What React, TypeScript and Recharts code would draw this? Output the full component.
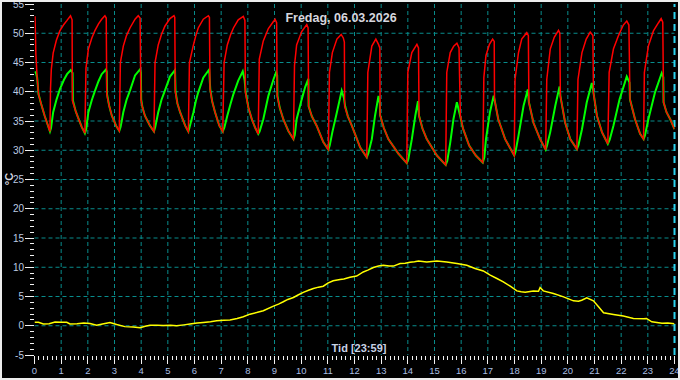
import React from 'react';
import { LineChart, Line, XAxis, YAxis, CartesianGrid, ReferenceLine } from 'recharts';

// [hour, °C] supply temperature (red)
const supplyTemp: [number, number][] = [
  [0.02, 52.9], [0.05, 46.5], [0.10, 42.4], [0.15, 39.6], [0.25, 37.9], [0.38, 35.9], [0.58, 33.2],
  [0.60, 40.5], [0.63, 43.8], [0.70, 46.6], [0.82, 48.8], [0.95, 50.4], [1.10, 51.5], [1.22, 52.2], [1.35, 53.0], [1.41, 52.3], [1.42, 38.5],
  [1.55, 36.6], [1.65, 35.4], [1.77, 34.0], [1.89, 32.9],
  [1.93, 44.0], [2.02, 47.3], [2.15, 49.2], [2.27, 50.5], [2.40, 51.6], [2.52, 52.4], [2.64, 53.0], [2.69, 52.6], [2.71, 39.6],
  [2.80, 37.6], [2.90, 35.9], [3.06, 34.2], [3.18, 33.3],
  [3.22, 45.0], [3.33, 47.8], [3.45, 49.6], [3.58, 50.9], [3.77, 52.4], [3.89, 53.0], [3.96, 52.6], [3.99, 38.7],
  [4.05, 37.3], [4.14, 35.9], [4.33, 34.2], [4.48, 33.2],
  [4.52, 45.0], [4.64, 48.0], [4.76, 49.8], [4.89, 51.2], [5.08, 52.5], [5.23, 53.0], [5.26, 52.7], [5.28, 40.0],
  [5.36, 38.0], [5.46, 36.5], [5.65, 34.2], [5.77, 33.2],
  [5.81, 45.0], [5.96, 48.0], [6.05, 49.6], [6.14, 50.9], [6.33, 52.4], [6.52, 53.0], [6.56, 52.7], [6.58, 40.5],
  [6.66, 38.4], [6.77, 36.5], [6.93, 34.2], [7.06, 33.2],
  [7.11, 45.0], [7.23, 48.0], [7.35, 49.7], [7.46, 50.9], [7.64, 52.3], [7.83, 52.9], [7.89, 52.2], [7.91, 39.9],
  [8.02, 37.3], [8.15, 35.3], [8.27, 33.9], [8.39, 32.8],
  [8.43, 45.6], [8.58, 48.7], [8.77, 50.8], [8.96, 52.0], [9.02, 52.4], [9.08, 51.8], [9.10, 39.3],
  [9.20, 37.2], [9.33, 35.3], [9.52, 33.3], [9.71, 31.9],
  [9.75, 44.5], [9.83, 48.0], [10.02, 50.3], [10.21, 51.5], [10.26, 50.9], [10.28, 37.5],
  [10.40, 35.8], [10.58, 34.2], [10.83, 31.4], [11.02, 30.1],
  [11.06, 43.3], [11.17, 46.7], [11.34, 49.0], [11.50, 49.8], [11.58, 49.2], [11.62, 48.5], [11.63, 37.5],
  [11.75, 35.8], [11.90, 34.2], [12.21, 30.5], [12.46, 28.8],
  [12.50, 43.3], [12.65, 47.8], [12.80, 49.0], [12.90, 48.1], [12.95, 47.5], [12.96, 36.0],
  [13.10, 33.8], [13.27, 31.9], [13.65, 29.4], [13.96, 27.8],
  [14.00, 43.3], [14.15, 46.7], [14.34, 48.1], [14.40, 47.5], [14.42, 35.9],
  [14.55, 33.7], [14.71, 31.9], [15.09, 29.1], [15.42, 27.5],
  [15.46, 43.3], [15.59, 46.7], [15.72, 47.8], [15.84, 48.3], [15.92, 47.5], [15.94, 42.6], [15.97, 36.0],
  [16.07, 33.7], [16.30, 30.8], [16.55, 29.1], [16.81, 27.9],
  [16.85, 42.4], [16.93, 46.2], [17.06, 48.1], [17.18, 49.0], [17.24, 48.6], [17.25, 38.7],
  [17.39, 35.3], [17.65, 31.9], [17.99, 29.1],
  [18.02, 42.1], [18.15, 46.7], [18.27, 49.0], [18.46, 50.1], [18.52, 49.6], [18.54, 38.2],
  [18.71, 34.7], [18.96, 31.9], [19.17, 30.1],
  [19.21, 42.1], [19.34, 47.3], [19.49, 49.3], [19.65, 50.5], [19.70, 50.0], [19.72, 39.3],
  [19.90, 34.7], [20.09, 31.9], [20.34, 30.2],
  [20.38, 42.1], [20.53, 46.7], [20.69, 49.0], [20.84, 50.2], [20.94, 49.6], [20.96, 39.9],
  [21.09, 35.9], [21.28, 33.1], [21.50, 31.1],
  [21.55, 43.3], [21.71, 47.3], [21.90, 49.6], [22.08, 51.4], [22.21, 52.1], [22.29, 51.4], [22.33, 38.7],
  [22.52, 35.3], [22.71, 32.8], [22.84, 31.9],
  [22.87, 43.3], [23.02, 47.8], [23.21, 50.4], [23.40, 51.8], [23.50, 52.5], [23.56, 51.9], [23.59, 38.2],
  [23.70, 36.5], [23.84, 35.3], [24.0, 33.6],
];

// [hour, °C] return temperature (green)
const returnTemp: [number, number][] = [
  [0.0, 43.4], [0.05, 43.3], [0.10, 42.4], [0.15, 39.6], [0.25, 37.9], [0.38, 35.9], [0.58, 33.2],
  [0.62, 33.8], [0.70, 36.5], [0.82, 38.6], [0.95, 40.4], [1.10, 42.0], [1.22, 43.0], [1.36, 43.7], [1.43, 43.2], [1.44, 38.5],
  [1.55, 36.6], [1.65, 35.4], [1.77, 34.0], [1.89, 32.9],
  [1.94, 33.6], [2.02, 36.5], [2.15, 38.6], [2.27, 40.2], [2.40, 41.8], [2.52, 43.0], [2.68, 43.8], [2.71, 43.4], [2.72, 39.6],
  [2.80, 37.6], [2.90, 35.9], [3.06, 34.2], [3.18, 33.3],
  [3.23, 34.0], [3.33, 36.5], [3.45, 38.6], [3.58, 40.2], [3.77, 42.8], [3.95, 43.8], [3.99, 43.4], [4.00, 38.7],
  [4.05, 37.3], [4.14, 35.9], [4.33, 34.2], [4.48, 33.2],
  [4.53, 34.0], [4.64, 36.5], [4.76, 38.6], [4.89, 40.2], [5.08, 42.6], [5.27, 43.7], [5.29, 40.0],
  [5.36, 38.0], [5.46, 36.5], [5.65, 34.2], [5.77, 33.2],
  [5.82, 34.0], [5.96, 36.5], [6.05, 38.4], [6.14, 39.9], [6.33, 42.4], [6.55, 43.8], [6.59, 40.5],
  [6.66, 38.4], [6.77, 36.5], [6.93, 34.2], [7.06, 33.2],
  [7.12, 33.9], [7.23, 35.9], [7.35, 37.9], [7.46, 39.6], [7.64, 41.9], [7.81, 43.5], [7.88, 42.0], [7.92, 39.9],
  [8.02, 37.3], [8.15, 35.3], [8.27, 33.9], [8.39, 32.8],
  [8.44, 33.2], [8.58, 35.3], [8.77, 39.3], [8.96, 42.1], [9.06, 43.3], [9.10, 42.8], [9.11, 39.3],
  [9.20, 37.2], [9.33, 35.3], [9.52, 33.3], [9.71, 31.9],
  [9.76, 32.6], [9.83, 35.3], [10.02, 38.7], [10.15, 40.8], [10.27, 42.2], [10.28, 37.5],
  [10.40, 35.8], [10.58, 34.2], [10.83, 31.4], [11.02, 30.1],
  [11.07, 30.8], [11.17, 33.1], [11.34, 36.5], [11.52, 40.2], [11.60, 39.0], [11.65, 37.5],
  [11.75, 35.8], [11.90, 34.2], [12.21, 30.5], [12.46, 28.8],
  [12.52, 29.5], [12.65, 31.9], [12.77, 35.9], [12.90, 39.3], [12.95, 38.0], [12.96, 36.0],
  [13.10, 33.8], [13.27, 31.9], [13.65, 29.4], [13.96, 27.8],
  [14.02, 28.5], [14.15, 31.9], [14.28, 35.9], [14.38, 38.4], [14.42, 35.9],
  [14.55, 33.7], [14.71, 31.9], [15.09, 29.1], [15.42, 27.5],
  [15.48, 28.2], [15.59, 31.3], [15.71, 35.3], [15.84, 38.2], [15.96, 35.9],
  [16.07, 33.7], [16.30, 30.8], [16.55, 29.1], [16.81, 27.9],
  [16.87, 28.8], [16.93, 31.9], [17.08, 36.5], [17.22, 39.3], [17.25, 38.7],
  [17.39, 35.3], [17.65, 31.9], [17.99, 29.1],
  [18.04, 29.8], [18.15, 32.5], [18.34, 37.6], [18.50, 40.4], [18.54, 38.2],
  [18.71, 34.7], [18.96, 31.9], [19.17, 30.1],
  [19.22, 30.8], [19.34, 33.1], [19.53, 37.6], [19.69, 40.9], [19.72, 39.3],
  [19.90, 34.7], [20.09, 31.9], [20.34, 30.2],
  [20.40, 30.9], [20.53, 33.6], [20.71, 38.2], [20.90, 41.5], [20.96, 39.9],
  [21.09, 35.9], [21.28, 33.1], [21.50, 31.1],
  [21.57, 31.8], [21.71, 34.2], [21.94, 38.7], [22.21, 42.6], [22.31, 41.6], [22.33, 38.7],
  [22.52, 35.3], [22.71, 32.8], [22.84, 31.9],
  [22.89, 32.5], [23.02, 35.3], [23.27, 39.9], [23.52, 43.2], [23.58, 42.5], [23.59, 38.2],
  [23.70, 36.5], [23.84, 35.3], [24.0, 33.6],
];

// [hour, °C] outdoor temperature (yellow)
const outdoorTemp: [number, number][] = [
  [0.0, 0.6], [0.15, 0.6], [0.33, 0.3], [0.55, 0.35], [0.77, 0.63], [1.0, 0.6], [1.21, 0.6], [1.33, 0.3],
  [1.6, 0.35], [1.85, 0.45], [2.08, 0.4], [2.33, 0.1], [2.55, 0.3], [2.83, 0.57], [3.08, 0.2], [3.39, -0.15],
  [3.7, -0.2], [3.96, -0.35], [4.15, -0.1], [4.33, 0.1], [4.6, 0.1], [4.83, 0.06], [5.1, 0.1], [5.33, 0.0],
  [5.6, 0.15], [5.83, 0.3], [6.1, 0.45], [6.33, 0.57], [6.6, 0.7], [6.83, 0.85], [7.1, 0.95], [7.33, 1.0],
  [7.6, 1.25], [7.83, 1.53], [8.08, 1.98], [8.33, 2.25], [8.58, 2.56], [8.96, 3.36], [9.15, 3.7], [9.33, 4.1],
  [9.5, 4.5], [9.71, 4.83], [9.9, 5.3], [10.08, 5.7], [10.3, 6.1], [10.46, 6.37], [10.65, 6.6], [10.83, 6.76],
  [11.0, 7.3], [11.2, 7.7], [11.46, 7.9], [11.6, 8.0], [11.83, 8.3], [12.08, 8.5], [12.33, 9.2], [12.5, 9.5],
  [12.71, 9.95], [12.9, 10.2], [13.08, 10.34], [13.3, 10.2], [13.46, 10.2], [13.71, 10.63], [13.9, 10.7],
  [14.08, 10.85], [14.25, 10.95], [14.4, 11.07], [14.71, 10.9], [15.09, 11.07], [15.46, 10.9], [15.84, 10.63],
  [16.21, 10.34], [16.52, 9.78], [16.83, 9.37], [17.09, 8.64], [17.34, 8.07], [17.58, 7.5], [17.84, 6.76],
  [18.09, 5.96], [18.25, 5.8], [18.4, 5.74], [18.71, 5.96], [18.9, 5.9], [18.96, 6.54], [19.08, 5.96],
  [19.46, 5.5], [19.84, 4.94], [20.21, 4.26], [20.4, 4.2], [20.52, 4.37], [20.71, 4.77], [20.96, 4.26],
  [21.15, 3.24], [21.34, 2.22], [21.71, 1.94], [22.08, 1.65], [22.46, 1.26], [22.84, 1.2], [22.95, 1.25],
  [23.15, 0.68], [23.53, 0.41], [23.75, 0.45], [24.0, 0.36],
];

const hourTicks = [0, 1, 2, 3, 4, 5, 6, 7, 8, 9, 10, 11, 12, 13, 14, 15, 16, 17, 18, 19, 20, 21, 22, 23, 24];
const tempTicks = [-5, 0, 5, 10, 15, 20, 25, 30, 35, 40, 45, 50, 55];
const gridHours = [1, 2, 3, 4, 5, 6, 7, 8, 9, 10, 11, 12, 13, 14, 15, 16, 17, 18, 19, 20, 21, 22, 23];
const gridTemps = [0, 5, 10, 15, 20, 25, 30, 35, 40, 45, 50];
const nowHour = 24;
const titleText = 'Fredag, 06.03.2026';
const xAxisTitle = 'Tid [23:59]';
const yAxisTitle = '°C';

// minor ticks: every 10 minutes on x, every degree on y
const xMinorTicks = hourTicks.slice(0, -1).flatMap((h) => [0, 1, 2, 3, 4, 5].map((k) => h + k / 6)).concat([24]);
const yMinorTicks = tempTicks.slice(0, -1).flatMap((t) => [0, 1, 2, 3, 4].map((k) => t + k)).concat([55]);

const toRows = (pts: [number, number][]) => pts.map(([h, v]) => ({ h, v }));

const FONT = '"Liberation Sans", Arial, sans-serif';

const XTick = (props: any) => {
  const { x, y, payload } = props;
  const v = payload.value as number;
  const major = Math.abs(v - Math.round(v)) < 1e-6;
  const px = Math.floor(x) + 0.5;
  return (
    <g>
      <line x1={px} x2={px} y1={y + 1} y2={y + (major ? 9 : 5)} stroke="#f2f2f2" strokeWidth={1} />
      {major && (
        <text x={x} y={y + 19} textAnchor="middle" fill="#a9bfe3" fontSize={9.5} fontFamily={FONT}>
          {Math.round(v)}
        </text>
      )}
    </g>
  );
};

const YTick = (props: any) => {
  const { x, y, payload } = props;
  const v = payload.value as number;
  const major = Math.abs(v - Math.round(v)) < 1e-6 && Math.round(v) % 5 === 0;
  const py = Math.floor(y) + 0.5;
  return (
    <g>
      <line x1={x - (major ? 9.5 : 4.5)} x2={x - 0.5} y1={py} y2={py} stroke="#f2f2f2" strokeWidth={1} />
      {major && (
        <text x={x - 10.5} y={y} dy="0.35em" textAnchor="end" fill="#bccbe2" fontSize={10} fontFamily={FONT}>
          {Math.round(v)}
        </text>
      )}
    </g>
  );
};

export default function App() {
  return (
    <div style={{ position: 'fixed', left: 0, top: 0, width: 680, height: 380, background: '#000', overflow: 'hidden' }}>
      <div style={{ position: 'absolute', left: 0, top: 0 }}>
        <LineChart width={680} height={380} margin={{ top: 4, right: 5.5, bottom: 0, left: 0 }}>
          <CartesianGrid
            stroke="#088c8c"
            strokeDasharray="4 3"
            horizontalValues={gridTemps}
            verticalValues={gridHours}
          />
          <XAxis
            dataKey="h"
            type="number"
            domain={[0, 24]}
            ticks={xMinorTicks}
            interval={0}
            height={25}
            tickSize={0}
            tickMargin={0}
            axisLine={false}
            tickLine={false}
            tick={(p: any) => <XTick {...p} />}
            allowDataOverflow
          />
          <YAxis
            type="number"
            domain={[-5, 55]}
            ticks={yMinorTicks}
            interval={0}
            width={34.5}
            tickSize={0}
            tickMargin={0}
            axisLine={false}
            tickLine={false}
            tick={(p: any) => <YTick {...p} />}
            allowDataOverflow
          />
          <ReferenceLine x={nowHour} stroke="#2ad4f0" strokeWidth={2} strokeDasharray="7 5" ifOverflow="visible" />
          <Line
            data={toRows(returnTemp)}
            dataKey="v"
            type="linear"
            stroke="#00ff00"
            strokeWidth={2}
            dot={false}
            activeDot={false}
            isAnimationActive={false}
          />
          <Line
            data={toRows(supplyTemp)}
            dataKey="v"
            type="linear"
            stroke="#ff0000"
            strokeWidth={1.5}
            dot={false}
            activeDot={false}
            isAnimationActive={false}
          />
          <Line
            data={toRows(outdoorTemp)}
            dataKey="v"
            type="linear"
            stroke="#ffff00"
            strokeWidth={1.5}
            dot={false}
            activeDot={false}
            isAnimationActive={false}
          />
        </LineChart>
      </div>
      <svg width={680} height={380} style={{ position: 'absolute', left: 0, top: 0, pointerEvents: 'none' }}>
        <text x={341} y={22} textAnchor="middle" fill="#d6d6de" fontSize={12.5} fontWeight="bold" fontFamily={FONT}>
          {titleText}
        </text>
        <text x={359} y={352} textAnchor="middle" fill="#c8d2e6" fontSize={11} fontWeight="bold" fontFamily={FONT}>
          {xAxisTitle}
        </text>
        <text
          x={12.5}
          y={179}
          textAnchor="middle"
          fill="#d8d8e0"
          fontSize={11}
          fontWeight="bold"
          fontFamily={FONT}
          transform="rotate(-90 12.5 179)"
        >
          {yAxisTitle}
        </text>
      </svg>
      <div
        style={{
          position: 'absolute',
          left: 0,
          top: 0,
          width: 680,
          height: 380,
          boxSizing: 'border-box',
          border: '2px solid #ececec',
          pointerEvents: 'none',
        }}
      />
    </div>
  );
}
